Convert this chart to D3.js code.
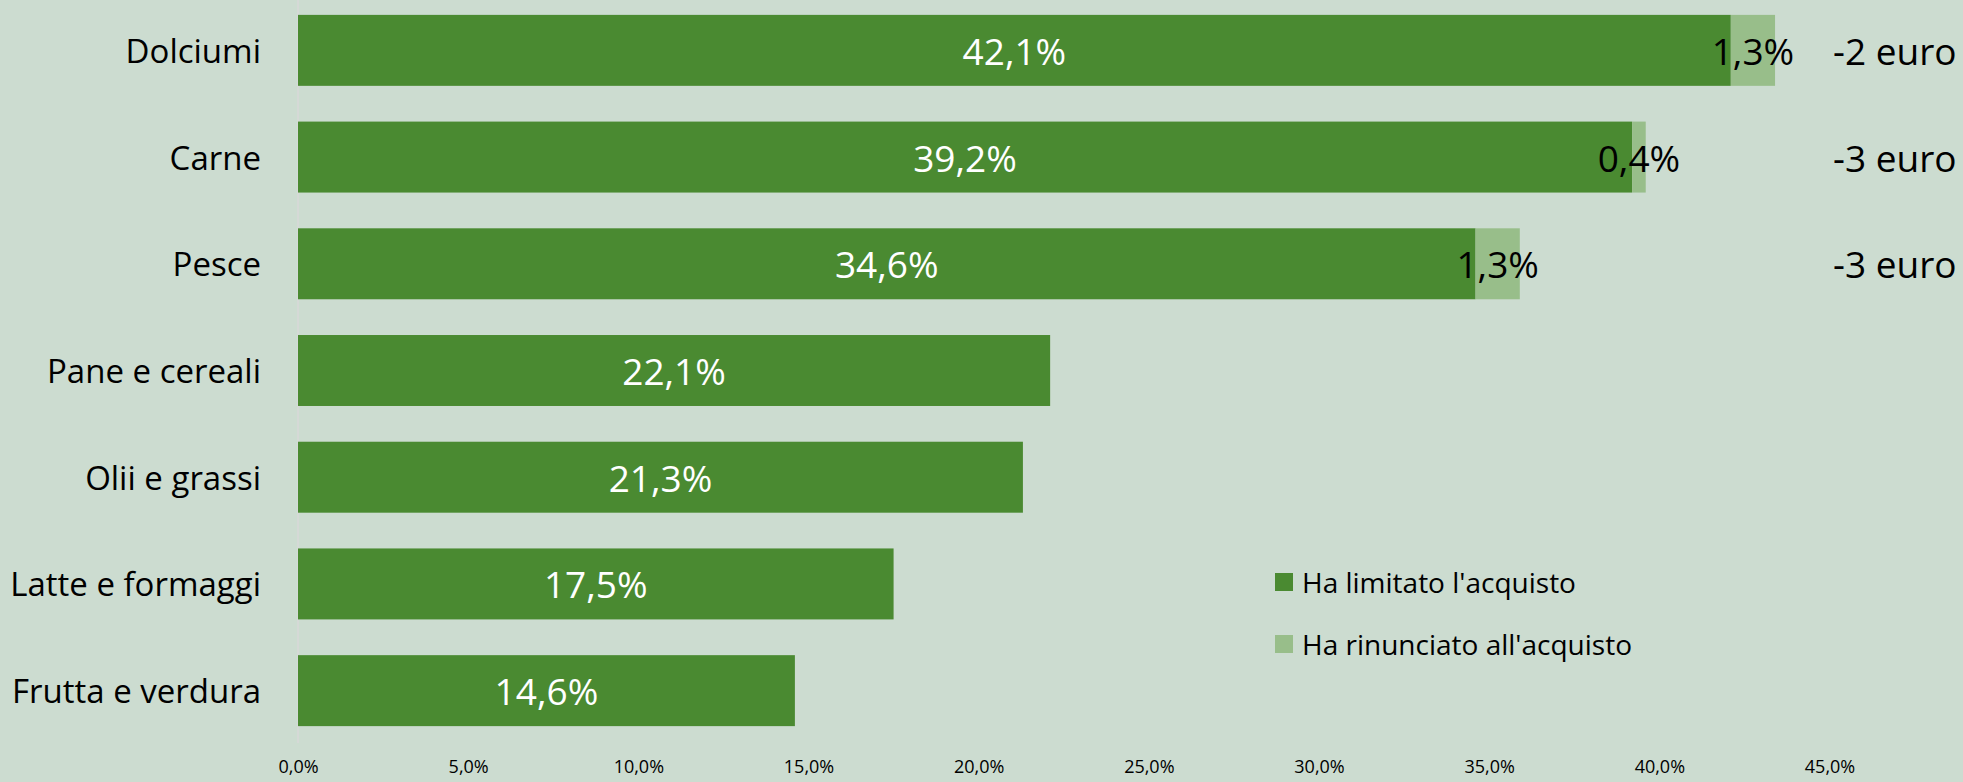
<!DOCTYPE html>
<html>
<head>
<meta charset="utf-8">
<script src="https://cdn.jsdelivr.net/npm/d3@7"></script>
<style>
  html, body { margin: 0; padding: 0; background: #CCDCD0; }
  svg { display: block; }
  text { font-family: "Open Sans", "Noto Sans", sans-serif; }
</style>
</head>
<body>
<svg id="chart" width="1963" height="782"></svg>
<script>
const categories = ["Dolciumi", "Carne", "Pesce", "Pane e cereali", "Olii e grassi", "Latte e formaggi", "Frutta e verdura"];
const limitato = [42.1, 39.2, 34.6, 22.1, 21.3, 17.5, 14.6];
const rinunciato = [1.3, 0.4, 1.3, 0, 0, 0, 0];
const euroLabels = ["-2 euro", "-3 euro", "-3 euro", "", "", "", ""];
const seriesNames = ["Ha limitato l'acquisto", "Ha rinunciato all'acquisto"];
const tickValues = [0, 5, 10, 15, 20, 25, 30, 35, 40, 45];
const colors = ["#4A8A31", "#98BE8A"];

const svg = d3.select("#chart");
const W = 1963, H = 782;
svg.append("rect").attr("width", W).attr("height", H).attr("fill", "#CCDCD0");

const x = d3.scaleLinear().domain([0, 45]).range([298, 1829.5]);
const y = d3.scaleBand().domain(categories).range([-3, 744]).paddingInner(0.335).paddingOuter(0.1675);

const fmt = v => d3.format(".1f")(v).replace(".", ",") + "%";

const data = categories.map((c, i) => ({ cat: c, lim: limitato[i], rin: rinunciato[i], euro: euroLabels[i] }));

// vertical axis line
svg.append("line")
  .attr("x1", x(0)).attr("x2", x(0))
  .attr("y1", 0).attr("y2", 743)
  .attr("stroke", "#D9D9D9").attr("stroke-width", 1.5);

// bars - limitato
svg.selectAll("rect.lim").data(data).enter().append("rect")
  .attr("class", "lim")
  .attr("x", x(0))
  .attr("y", d => y(d.cat))
  .attr("width", d => x(d.lim) - x(0))
  .attr("height", y.bandwidth())
  .attr("fill", colors[0]);

// bars - rinunciato
svg.selectAll("rect.rin").data(data.filter(d => d.rin > 0)).enter().append("rect")
  .attr("class", "rin")
  .attr("x", d => x(d.lim))
  .attr("y", d => y(d.cat))
  .attr("width", d => x(d.lim + d.rin) - x(d.lim))
  .attr("height", y.bandwidth())
  .attr("fill", colors[1]);

// labels limitato
svg.selectAll("text.lim").data(data).enter().append("text")
  .attr("class", "lim")
  .attr("x", d => (x(0) + x(d.lim)) / 2)
  .attr("y", d => y(d.cat) + y.bandwidth() / 2)
  .attr("text-anchor", "middle")
  .attr("dominant-baseline", "central")
  .attr("font-size", 37)
  .attr("fill", "#FFFFFF")
  .text(d => fmt(d.lim));

// labels rinunciato
svg.selectAll("text.rin").data(data.filter(d => d.rin > 0)).enter().append("text")
  .attr("class", "rin")
  .attr("x", d => (x(d.lim) + x(d.lim + d.rin)) / 2)
  .attr("y", d => y(d.cat) + y.bandwidth() / 2)
  .attr("text-anchor", "middle")
  .attr("dominant-baseline", "central")
  .attr("font-size", 37)
  .attr("fill", "#000000")
  .text(d => fmt(d.rin));

// euro labels
svg.selectAll("text.euro").data(data.filter(d => d.euro)).enter().append("text")
  .attr("class", "euro")
  .attr("x", 1833)
  .attr("y", d => y(d.cat) + y.bandwidth() / 2)
  .attr("dominant-baseline", "central")
  .attr("font-size", 37)
  .attr("fill", "#000000")
  .text(d => d.euro);

// category labels
svg.selectAll("text.cat").data(data).enter().append("text")
  .attr("class", "cat")
  .attr("x", 261)
  .attr("y", d => y(d.cat) + y.bandwidth() / 2)
  .attr("text-anchor", "end")
  .attr("dominant-baseline", "central")
  .attr("font-size", 33)
  .attr("fill", "#000000")
  .text(d => d.cat);

// x axis
const xAxis = d3.axisBottom(x).tickValues(tickValues).tickSize(0).tickFormat(fmt);
const gx = svg.append("g").attr("transform", "translate(0,757)").call(xAxis);
gx.select(".domain").remove();
gx.selectAll("text")
  .attr("font-size", 18)
  .attr("font-family", "'Open Sans', sans-serif")
  .attr("fill", "#000")
  .attr("dy", "0.32em")
  .attr("y", 10);

// legend
const legend = svg.append("g");
seriesNames.forEach((name, i) => {
  const cy = 582 + i * 62;
  legend.append("rect").attr("x", 1275).attr("y", cy - 9).attr("width", 18).attr("height", 18).attr("fill", colors[i]);
  legend.append("text").attr("x", 1302).attr("y", cy)
    .attr("dominant-baseline", "central")
    .attr("font-size", 28).attr("fill", "#000").text(name);
});
</script>
</body>
</html>
